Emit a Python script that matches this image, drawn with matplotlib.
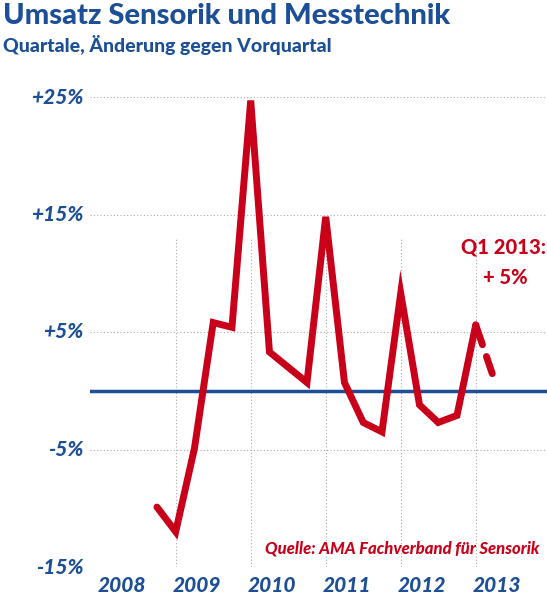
import matplotlib.pyplot as plt

plt.rcParams['font.family'] = ['Lato', 'DejaVu Sans']

# quarterly change vs previous quarter, Q4 2008 .. Q1 2013
values = [-9.9, -12.0, -4.9, 5.8, 5.4, 24.7, 3.3, 2.0, 0.7, 14.8, 0.7,
          -2.7, -3.5, 8.3, -1.2, -2.7, -2.1, 5.6]
quarters = list(range(len(values)))
trend_x = [17, 18]
trend_y = [5.6, 0.9]
years = [2008, 2009, 2010, 2011, 2012, 2013]
yticks = [-15, -5, 5, 15, 25]
ylabels = ['-15%', '-5%', '+5%', '+15%', '+25%']

red = '#c8001a'
blue = '#1d4f96'

fig = plt.figure(figsize=(5.47, 6.0), dpi=100)
ax = fig.add_axes([90 / 547, 1 - 567 / 600, 1 - 90 / 547, 470 / 600])
ax.set_xlim(-3.57, 20.8)
ax.set_ylim(-15, 25)

for y in yticks:
    ax.axhline(y, color='#aaaaaa', lw=0.8, ls=(0, (1, 2)), zorder=1)
for k in range(1, 18, 4):
    ax.vlines(k, -15, 13, color='#aaaaaa', lw=0.8, ls=(0, (1, 2)), zorder=1)
ax.axhline(0, color=blue, lw=2.5, zorder=2)

ax.plot(quarters, values, color=red, lw=5, solid_joinstyle='miter',
        solid_capstyle='round', zorder=3)
ax.plot(trend_x, trend_y, color=red, lw=5, dash_capstyle='round',
        ls=(0, (3.0, 1.8, 2.6, 20)), zorder=3)

for spine in ax.spines.values():
    spine.set_visible(False)
ax.set_xticks([])
ax.set_yticks([])

for v, lab in zip(yticks, ylabels):
    ax.text(-3.9, v, lab, ha='right', va='center', color=blue, fontsize=15,
            fontweight='black', style='italic', clip_on=False)
for yr in years:
    ax.text(4 * (yr - 2009) + 2.15, -15.8, str(yr), ha='center', va='top', color=blue,
            fontsize=15, fontweight='black', style='italic', clip_on=False)

ax.text(20.75, 12.2, 'Q1 2013:', ha='right', va='center', color=red,
        fontsize=14.5, fontweight='black')
ax.text(18.6, 9.6, '+ 5%', ha='center', va='center', color=red,
        fontsize=14.5, fontweight='black')
ax.text(20.4, -13.4, 'Quelle: AMA Fachverband für Sensorik', ha='right', va='center',
        color=red, fontsize=12, fontweight='black', style='italic')

fig.text(0.005, 0.973, 'Umsatz Sensorik und Messtechnik', ha='left', va='center',
         color=blue, fontsize=21, fontweight='black')
fig.text(0.005, 0.925, 'Quartale, Änderung gegen Vorquartal', ha='left', va='center',
         color=blue, fontsize=14, fontweight='black')

fig.savefig('out.png', dpi=100)
